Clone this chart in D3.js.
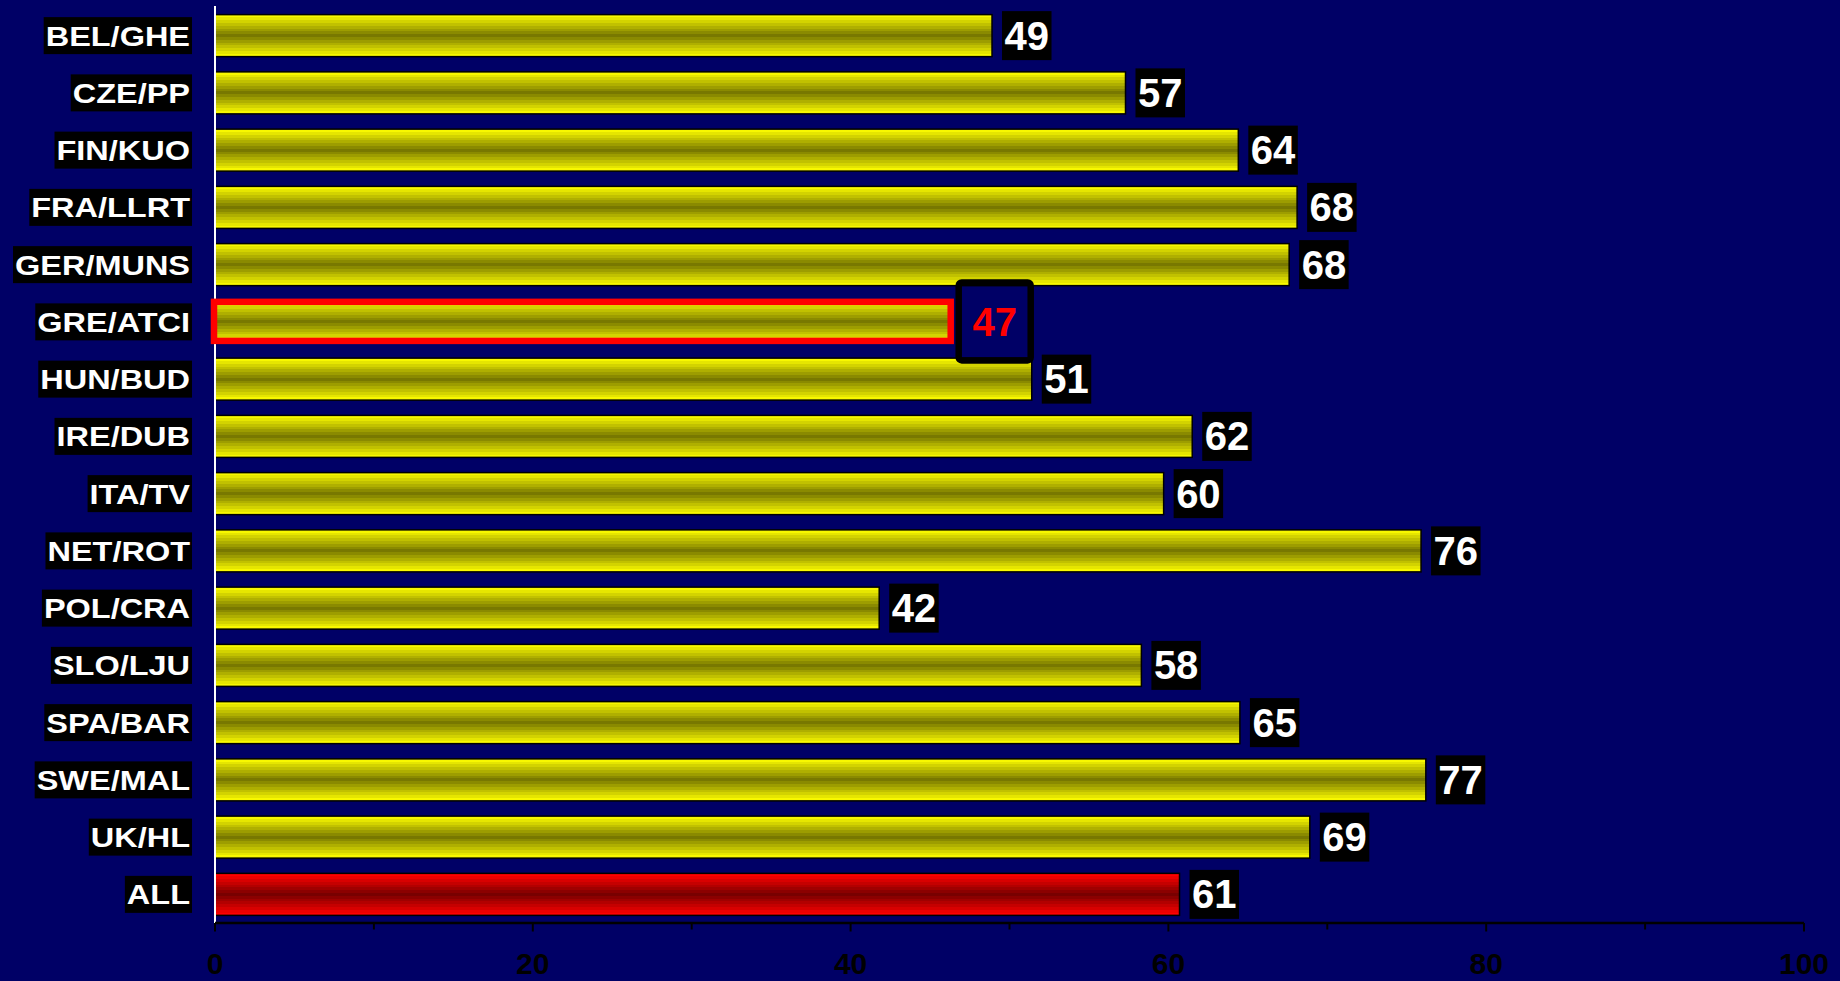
<!DOCTYPE html>
<html>
<head>
<meta charset="utf-8">
<script src="https://cdn.jsdelivr.net/npm/d3@7"></script>
<style>
  html, body { margin: 0; padding: 0; background: #000066; }
  svg { display: block; }
  text { font-family: "Liberation Sans", Arial, sans-serif; font-weight: bold; }
</style>
</head>
<body>
<svg id="chart" width="1840" height="981"></svg>
<script>
// ---- data ----
const categories = ["BEL/GHE","CZE/PP","FIN/KUO","FRA/LLRT","GER/MUNS","GRE/ATCI","HUN/BUD","IRE/DUB","ITA/TV","NET/ROT","POL/CRA","SLO/LJU","SPA/BAR","SWE/MAL","UK/HL","ALL"];
const values = [48.9, 57.3, 64.4, 68.1, 67.6, 46.3, 51.4, 61.5, 59.7, 75.9, 41.8, 58.3, 64.5, 76.2, 68.9, 60.7];
const valueLabels = ["49","57","64","68","68","47","51","62","60","76","42","58","65","77","69","61"];
const highlighted = "GRE/ATCI";
const totalCategory = "ALL";
const xTicks = [0,10,20,30,40,50,60,70,80,90,100];
const xTickLabels = ["0","","20","","40","","60","","80","","100"];

// ---- setup ----
const svg = d3.select("#chart");
svg.append("rect").attr("width",1840).attr("height",981).attr("fill","#000066");

const x = d3.scaleLinear().domain([0,100]).range([215,1804]);
const y = d3.scaleBand().domain(categories).range([7,923]).paddingInner(0.266).paddingOuter(0.133);

// stepped gradients
const defs = svg.append("defs");
function stepped(id, light, dark, n) {
  const g = defs.append("linearGradient").attr("id",id).attr("x1",0).attr("y1",0).attr("x2",0).attr("y2",1);
  const interp = d3.interpolateRgb(light, dark);
  const total = 2*n - 1;
  for (let i = 0; i < total; i++) {
    const t = i < n ? i/(n-1) : (total-1-i)/(n-1);
    const c = interp(t);
    g.append("stop").attr("offset", i/total).attr("stop-color", c);
    g.append("stop").attr("offset", (i+1)/total).attr("stop-color", c);
  }
}
stepped("gy", "#f8f800", "#787800", 8);
stepped("gr", "#ff0000", "#780000", 8);

// ---- bars ----
const data = categories.map((c,i) => ({c, v: values[i], lab: valueLabels[i]}));

svg.append("g").selectAll("rect").data(data).join("rect")
  .attr("x", x(0))
  .attr("y", d => y(d.c))
  .attr("width", d => x(d.v) - x(0))
  .attr("height", y.bandwidth())
  .attr("fill", d => d.c === totalCategory ? "url(#gr)" : "url(#gy)")
  .attr("stroke", d => d.c === highlighted ? "none" : "#000")
  .attr("stroke-width", 1.5);

// white vertical axis line
svg.append("line").attr("x1",x(0)).attr("x2",x(0)).attr("y1",6).attr("y2",923)
  .attr("stroke","#fff").attr("stroke-width",2);

// highlight outline
const hd = data.find(d => d.c === highlighted);
svg.append("rect")
  .attr("x", x(0) - 1).attr("y", y(hd.c) + 1)
  .attr("width", x(hd.v) - x(0) + 1).attr("height", y.bandwidth() - 3)
  .attr("fill","none").attr("stroke","#ff0000").attr("stroke-width",6.5);

// ---- x axis ----
const axisY = 923;
svg.append("line").attr("x1",x(0)).attr("x2",x(100)).attr("y1",axisY).attr("y2",axisY)
  .attr("stroke","#000").attr("stroke-width",2.3);
svg.append("g").selectAll("line").data(xTicks).join("line")
  .attr("x1", d => x(d)).attr("x2", d => x(d))
  .attr("y1", axisY).attr("y2", (d,i) => axisY + (xTickLabels[i] ? 8.5 : 6.5))
  .attr("stroke","#000").attr("stroke-width",2);
svg.append("g").selectAll("text").data(xTicks).join("text")
  .attr("x", d => x(d)).attr("y", 974)
  .attr("text-anchor","middle").attr("font-size",30).attr("fill","#000")
  .text((d,i) => xTickLabels[i]);

// ---- category labels ----
const catSX = 1.16;
const catG = svg.append("g");
data.forEach(d => {
  const cy = y(d.c) + y.bandwidth()/2;
  const g = catG.append("g");
  const bg = g.append("rect").attr("fill","#000");
  const t = g.append("text")
    .attr("transform", `translate(190,${cy + 10}) scale(${catSX},1)`)
    .attr("text-anchor","end").attr("font-size",28).attr("fill","#fff")
    .text(d.c);
  const w = t.node().getComputedTextLength() * catSX;
  bg.attr("x", 190 - w - 2).attr("y", cy - 18.5).attr("width", w + 4).attr("height", 37);
});

// ---- value labels ----
const valG = svg.append("g");
data.forEach(d => {
  const cy = y(d.c) + y.bandwidth()/2;
  const g = valG.append("g");
  if (d.c === highlighted) {
    const bx = x(d.v) + 8;
    const t = g.append("text").attr("font-size",40).attr("fill","#ff0000")
      .attr("text-anchor","middle").text(d.lab);
    g.insert("rect","text")
      .attr("x", bx).attr("y", cy - 39.5).attr("width", 72).attr("height", 78)
      .attr("rx", 3).attr("fill","none").attr("stroke","#000").attr("stroke-width",6.5);
    t.attr("x", bx + 36).attr("y", cy + 14);
  } else {
    const bx = x(d.v) + 10;
    const bg = g.append("rect").attr("fill","#000");
    const t = g.append("text").attr("font-size",40).attr("fill","#fff")
      .attr("x", bx + 2.5).attr("y", cy + 14).text(d.lab);
    const w = t.node().getComputedTextLength();
    bg.attr("x", bx).attr("y", cy - 24.5).attr("width", w + 5).attr("height", 49);
  }
});
</script>
</body>
</html>
